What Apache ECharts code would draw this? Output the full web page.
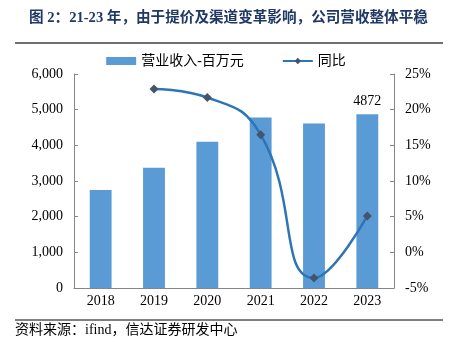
<!DOCTYPE html>
<html><head><meta charset="utf-8">
<script src="https://cdn.jsdelivr.net/npm/echarts@6/dist/echarts.min.js"></script>
<style>html,body{margin:0;padding:0;background:#fff}#c{width:452px;height:352px}</style>
</head><body><div id="c"></div>
<script>
const categories = ['2018','2019','2020','2021','2022','2023'];
const revenue = [2745, 3370, 4098, 4781, 4613, 4872];
const yoy = [null, 22.9, 21.7, 16.5, -3.6, 5.1];
const leftTicks = [0, 1000, 2000, 3000, 4000, 5000, 6000];
const rightTicks = [-5, 0, 5, 10, 15, 20, 25];
const titleText = '图 2：21-23 年，由于提价及渠道变革影响，公司营收整体平稳';
const sourceText = '资料来源：ifind，信达证券研发中心';
const seriesNames = ['营业收入-百万元', '同比'];

const FONT = '"Liberation Serif","Noto Sans CJK SC",serif';
const chart = echarts.init(document.getElementById('c'), null, {renderer:'canvas'});
chart.setOption({
  animation: false,
  textStyle: {fontFamily: FONT},
  title: {
    text: titleText, left: 24, top: 6,
    textStyle: {fontSize: 14.6, fontWeight: 'bold', color: '#1f3864', fontFamily: FONT}
  },
  graphic: [
    {type:'line', shape:{x1:15,y1:43,x2:443,y2:43}, style:{stroke:'#404040', lineWidth:1.5}},
    {type:'line', shape:{x1:15,y1:320,x2:443,y2:320}, style:{stroke:'#000', lineWidth:1}},
    {type:'text', left:15, top:323, style:{text:sourceText, fontSize:14, fill:'#000', fontFamily:FONT}}
  ],
  legend: {
    top: 49, left: 'center', itemGap: 38, itemWidth: 30, itemHeight: 8,
    textStyle: {fontSize: 14, color: '#000', fontFamily: FONT},
    data: [
      {name: seriesNames[0], icon: 'rect'},
      {name: seriesNames[1]}
    ]
  },
  grid: {left: 74, right: 58, top: 74, bottom: 64},
  xAxis: {
    type: 'category', data: categories,
    axisLine: {lineStyle: {color: '#868686'}},
    axisTick: {inside: true, length: 4, lineStyle: {color: '#868686'}},
    axisLabel: {fontSize: 14, color: '#000', margin: 6, fontFamily: FONT}
  },
  yAxis: [
    {
      type: 'value', min: leftTicks[0], max: leftTicks[leftTicks.length-1], interval: 1000,
      axisLine: {show: true, lineStyle: {color: '#868686'}},
      axisTick: {show: true, inside: true, length: 4, lineStyle: {color: '#868686'}},
      splitLine: {show: false},
      axisLabel: {fontSize: 14, color: '#000', margin: 11, fontFamily: FONT,
        formatter: v => v.toLocaleString('en-US')}
    },
    {
      type: 'value', min: rightTicks[0], max: rightTicks[rightTicks.length-1], interval: 5,
      position: 'right',
      axisLine: {show: true, lineStyle: {color: '#868686'}},
      axisTick: {show: true, inside: true, length: 4, lineStyle: {color: '#868686'}},
      splitLine: {show: false},
      axisLabel: {fontSize: 14, color: '#000', margin: 11, fontFamily: FONT,
        formatter: v => v + '%'}
    }
  ],
  series: [
    {
      name: seriesNames[0], type: 'bar', yAxisIndex: 0, barWidth: '41%',
      itemStyle: {color: '#5b9bd5'},
      data: revenue.map((v, i) => i === revenue.length - 1
        ? {value: v, label: {show: true, position: 'top', distance: 6, fontSize: 14, color: '#000', fontFamily: FONT}}
        : v)
    },
    {
      name: seriesNames[1], type: 'line', yAxisIndex: 1, smooth: 0.5,
      symbol: 'diamond', symbolSize: 9,
      lineStyle: {color: '#2e75b6', width: 2.5},
      itemStyle: {color: '#44546a'},
      data: yoy
    }
  ]
});
</script></body></html>
